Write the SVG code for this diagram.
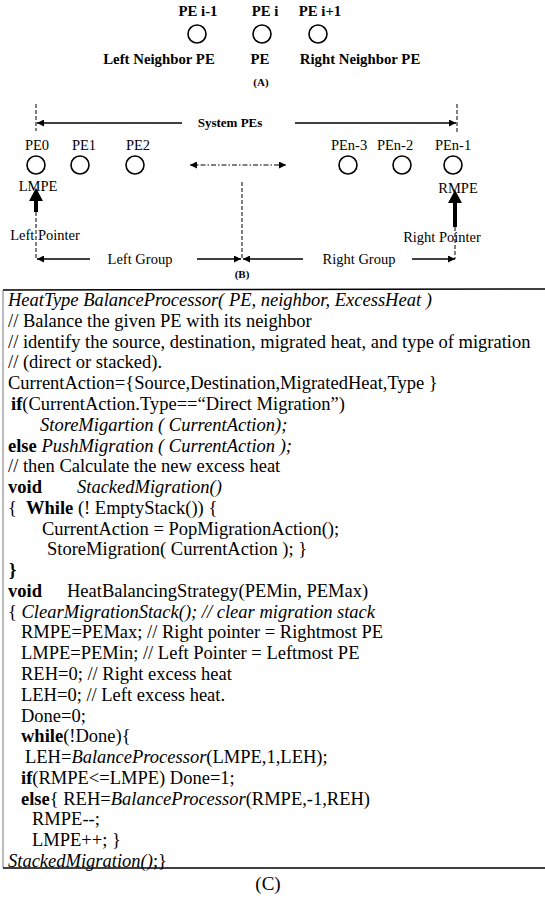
<svg xmlns="http://www.w3.org/2000/svg" width="545" height="899" viewBox="0 0 545 899">
<style>
text{font-family:"Liberation Serif","Times New Roman",serif;fill:#000}
.lb{font-size:14.8px;font-weight:bold}
.lr{font-size:14.5px}
.sm{font-size:11px;font-weight:bold}
.sys{font-size:13px;font-weight:bold}
.code{font-size:18.5px;white-space:pre}
.i{font-style:italic}
.b{font-weight:bold}
.pe{fill:#fff;stroke:#000;stroke-width:1.6}
.ln{stroke:#000;stroke-width:1.3;fill:none}
.dash{stroke:#000;stroke-width:1;stroke-dasharray:4 2;fill:none}
.dd{stroke:#000;stroke-width:1.2;stroke-dasharray:5 2 1.5 2;fill:none}
</style>
<defs>
<marker id="ah" viewBox="0 0 10 10" refX="10" refY="5" markerWidth="8" markerHeight="7" markerUnits="userSpaceOnUse" orient="auto-start-reverse">
<path d="M0,0 L10,5 L0,10 z" fill="#000"/>
</marker>
</defs>
<rect width="545" height="899" fill="#fff"/>

<g id="partA">
<g id="pe-im1"><text class="lb" x="198" y="16" text-anchor="middle">PE i-1</text><circle class="pe" cx="197" cy="34" r="9"/></g>
<g id="pe-i"><text class="lb" x="265" y="16" text-anchor="middle">PE i</text><circle class="pe" cx="262" cy="34" r="9"/></g>
<g id="pe-ip1"><text class="lb" x="320" y="16" text-anchor="middle">PE i+1</text><circle class="pe" cx="318" cy="34" r="9"/></g>
<text class="lb" x="159" y="64" text-anchor="middle">Left Neighbor PE</text>
<text class="lb" x="260" y="64" text-anchor="middle">PE</text>
<text class="lb" x="360" y="64" text-anchor="middle">Right Neighbor PE</text>
<text class="sm" x="261" y="86" text-anchor="middle">(A)</text>
</g>

<g id="partB">
<g id="pe0"><text class="lr" x="37" y="150" text-anchor="middle">PE0</text><circle class="pe" cx="36" cy="165" r="9"/></g>
<g id="pe1"><text class="lr" x="84" y="150" text-anchor="middle">PE1</text><circle class="pe" cx="80" cy="165" r="9"/></g>
<g id="pe2"><text class="lr" x="138" y="150" text-anchor="middle">PE2</text><circle class="pe" cx="135" cy="165" r="9"/></g>
<g id="pen3"><text class="lr" x="349" y="150" text-anchor="middle">PEn-3</text><circle class="pe" cx="348" cy="165" r="9"/></g>
<g id="pen2"><text class="lr" x="395" y="150" text-anchor="middle">PEn-2</text><circle class="pe" cx="402" cy="165" r="9"/></g>
<g id="pen1"><text class="lr" x="453" y="150" text-anchor="middle">PEn-1</text><circle class="pe" cx="453" cy="165" r="9"/></g>
<text class="lr" x="38" y="191" text-anchor="middle">LMPE</text>
<text class="lr" x="458" y="193" text-anchor="middle">RMPE</text>
<text class="sys" x="230" y="127" text-anchor="middle">System PEs</text>
<text class="lr" x="45" y="240" text-anchor="middle">Left Pointer</text>
<text class="lr" x="442" y="242" text-anchor="middle">Right Pointer</text>
<text class="lr" x="140" y="264" text-anchor="middle">Left Group</text>
<text class="lr" x="359" y="264" text-anchor="middle">Right Group</text>
<text class="sm" x="242" y="278" text-anchor="middle">(B)</text>
</g>

<g id="connectors">
<line class="dash" x1="36" y1="104" x2="36" y2="131"/>
<line class="dash" x1="457" y1="104" x2="457" y2="132"/>
<line class="ln" x1="182" y1="123" x2="37" y2="123" marker-end="url(#ah)"/>
<line class="ln" x1="295" y1="123" x2="456" y2="123" marker-end="url(#ah)"/>
<line class="dd" x1="190" y1="165" x2="286" y2="165" marker-start="url(#ah)" marker-end="url(#ah)"/>
<line class="dash" x1="242" y1="182" x2="242" y2="258"/>
<path d="M36,188 L43,201 L38,201 L38,212 L34,212 L34,201 L29,201 Z" fill="#000"/>
<path d="M455,190 L462,203 L457,203 L457,227 L453,227 L453,203 L448,203 Z" fill="#000"/>
<line class="dash" x1="36" y1="212" x2="36" y2="259"/>
<line class="dash" x1="455" y1="227" x2="455" y2="259"/>
<line class="ln" x1="90" y1="259" x2="37" y2="259" marker-end="url(#ah)"/>
<line class="ln" x1="197" y1="259" x2="241" y2="259" marker-end="url(#ah)"/>
<line class="ln" x1="303" y1="259" x2="243" y2="259" marker-end="url(#ah)"/>
<line class="ln" x1="412" y1="259" x2="455" y2="259" marker-end="url(#ah)"/>
</g>

<g id="partC">
<line x1="3" y1="290" x2="545" y2="289" stroke="#000" stroke-width="1.6"/>
<line x1="3" y1="290" x2="3" y2="868" stroke="#555" stroke-width="0.8"/>
<line x1="3" y1="868" x2="545" y2="868" stroke="#000" stroke-width="1.6"/>
<g class="code">
<text x="8" y="306"><tspan class="i">HeatType  BalanceProcessor( PE, neighbor, ExcessHeat )</tspan></text>
<text x="8" y="327">// Balance the given PE with its neighbor</text>
<text x="8" y="348">// identify the source, destination, migrated heat, and type of migration</text>
<text x="8" y="368">// (direct or stacked).</text>
<text x="8" y="389">CurrentAction={Source,Destination,MigratedHeat,Type }</text>
<text x="11" y="410"><tspan class="b">if</tspan>(CurrentAction.Type==“Direct Migration”)</text>
<text x="40" y="431" class="i">StoreMigartion ( CurrentAction);</text>
<text x="8" y="452"><tspan class="b">else</tspan> <tspan class="i">PushMigration ( CurrentAction );</tspan></text>
<text x="8" y="472">// then Calculate the new excess heat</text>
<text x="8" y="493"><tspan class="b">void</tspan><tspan x="77" class="i">StackedMigration()</tspan></text>
<text x="8" y="514">{<tspan class="b" x="26">While</tspan> (! EmptyStack())   {</text>
<text x="42" y="535">CurrentAction = PopMigrationAction();</text>
<text x="47" y="555">StoreMigration( CurrentAction );   }</text>
<text x="9" y="576" class="b">}</text>
<text x="8" y="597"><tspan class="b">void</tspan><tspan x="67">HeatBalancingStrategy(PEMin, PEMax)</tspan></text>
<text x="8" y="618">{ <tspan class="i">ClearMigrationStack(); // clear migration stack</tspan></text>
<text x="21" y="638">RMPE=PEMax; // Right pointer = Rightmost PE</text>
<text x="21" y="659">LMPE=PEMin;  // Left Pointer = Leftmost PE</text>
<text x="21" y="680">REH=0; // Right excess heat</text>
<text x="21" y="701">LEH=0; // Left excess heat.</text>
<text x="21" y="722">Done=0;</text>
<text x="21" y="742"><tspan class="b">while</tspan>(!Done){</text>
<text x="25" y="763">LEH=<tspan class="i">BalanceProcessor</tspan>(LMPE,1,LEH);</text>
<text x="21" y="784"><tspan class="b">if</tspan>(RMPE&lt;=LMPE)  Done=1;</text>
<text x="21" y="805"><tspan class="b">else</tspan>{  REH=<tspan class="i">BalanceProcessor</tspan>(RMPE,-1,REH)</text>
<text x="32" y="825">RMPE--;</text>
<text x="32" y="846">LMPE++; }</text>
<text x="8" y="867"><tspan class="i">StackedMigration()</tspan>;}</text>
</g>
<text x="268" y="890" text-anchor="middle" style="font-size:19px">(C)</text>
</g>
</svg>
